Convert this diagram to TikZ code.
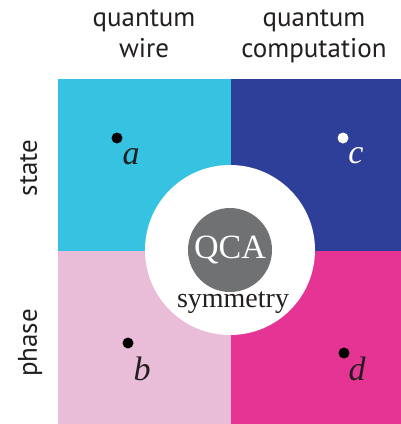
\documentclass[tikz,border=0pt]{standalone}
\usepackage{fontspec}
\setmainfont{Liberation Serif}
\newfontfamily\labelfont{PT Sans}
\usepackage{xcolor}
\usepackage{tikz}

\definecolor{wirecyan}{HTML}{35C3E1}
\definecolor{compblue}{HTML}{2D3F98}
\definecolor{phasepink}{HTML}{E9BCD7}
\definecolor{compmagenta}{HTML}{E53494}
\definecolor{qcagray}{HTML}{707172}
\definecolor{labelgray}{HTML}{231F20}

\tikzset{
  axislabel/.style={font=\labelfont\fontsize{27}{31}\selectfont, text=labelgray, inner sep=0pt},
  ptlabel/.style={font=\itshape\fontsize{34}{34}\selectfont, text=labelgray, inner sep=0pt},
  dotpt/.style={circle, fill=black, minimum size=11pt, inner sep=0pt}
}

\begin{document}
\begin{tikzpicture}[x=1pt,y=-1pt]
\useasboundingbox (0,0) rectangle (401,424);
% the four quadrants
\fill[wirecyan]    (58,79) rectangle (231,251);
\fill[compblue]    (231,79) rectangle (401,251);
\fill[phasepink]   (58,251) rectangle (231,424);
\fill[compmagenta] (231,251) rectangle (401,424);

% centre
\fill[white] (230,250) circle (85);
\fill[qcagray] (230,250) circle (42);
\node[text=white, font=\fontsize{34}{34}\selectfont, inner sep=0pt] (qca) at (230,250) {QCA};
\node[anchor=base, text=labelgray, font=\fontsize{28}{28}\selectfont, inner sep=0pt] (sym) at (233,307) {symmetry};

% column and row labels
\node[axislabel, align=center, anchor=base] (wire) at (144,57) {quantum\\wire};
\node[axislabel, align=center, anchor=base] (comp) at (314,57) {quantum\\computation};
\node[axislabel, rotate=90, anchor=base] (state) at (37,168) {state};
\node[axislabel, rotate=90, anchor=base] (phase) at (37,343) {phase};

% points
\node[dotpt] (pa) at (117,138) {};
\node[dotpt, fill=white] (pc) at (343,138) {};
\node[dotpt] (pb) at (128,343) {};
\node[dotpt] (pd) at (344,353) {};
\node[ptlabel, anchor=base] (la) at (131,164) {a};
\node[ptlabel, anchor=base, text=white] (lc) at (356,163) {c};
\node[ptlabel, anchor=base] (lb) at (142,380) {b};
\node[ptlabel, anchor=base] (ld) at (357,380) {d};
\end{tikzpicture}
\end{document}
